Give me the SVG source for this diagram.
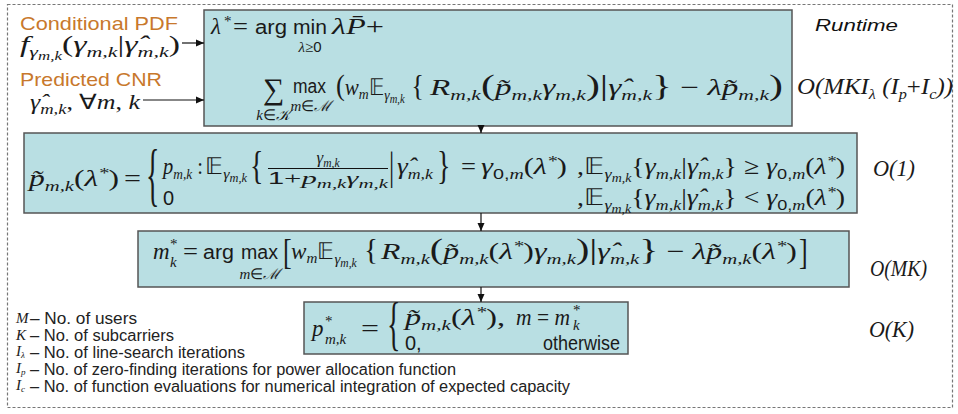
<svg xmlns="http://www.w3.org/2000/svg" width="958" height="414" viewBox="0 0 958 414">
<style>
.frame{fill:none;stroke:#777;stroke-width:1.2;stroke-dasharray:3 2}
.box{fill:#b9dfe3;stroke:#555;stroke-width:1.5}
.mi{font-family:"Liberation Serif",serif;font-style:italic;font-size:23px;fill:#1a1a1a}
.up{font-style:normal}
.sf{font-family:"Liberation Sans",sans-serif;font-style:normal;font-size:20px}
.sb{font-size:15px}
.ss{font-size:11.5px}
.big{font-size:29px}
.lbl{font-family:"Liberation Sans",sans-serif;font-size:19px;fill:#c8782c}
.leg{font-family:"Liberation Sans",sans-serif;font-size:16px;fill:#222}
.sym{font-family:"Liberation Serif",serif;font-style:italic;font-size:15px;fill:#1a1a1a}
.cx{font-family:"Liberation Serif",serif;font-style:italic;font-size:23px;fill:#1a1a1a}
.rt{font-family:"Liberation Sans",sans-serif;font-style:italic;font-size:17px;fill:#111}
.bar{stroke:#111;stroke-width:1}
.conn line{stroke:#111;stroke-width:1.2;marker-end:url(#ah)}
</style>
<defs>
<marker id="ah" viewBox="0 0 8 8" refX="8" refY="4" markerWidth="8" markerHeight="8" markerUnits="userSpaceOnUse" orient="auto"><path d="M0,0.5 L8,4 L0,7.5 z" fill="#111"/></marker>
</defs>
<rect x="0" y="0" width="958" height="414" fill="#fff"/>
<rect class="frame" x="7.5" y="4.5" width="945" height="403"/>

<g id="inputs">
<text class="lbl" x="20" y="30" textLength="158" lengthAdjust="spacingAndGlyphs">Conditional PDF</text>
<text class="mi" x="20" y="52" textLength="160" lengthAdjust="spacingAndGlyphs">f<tspan class="sb" dy="5">γ<tspan class="ss" dy="3">m,k</tspan></tspan><tspan class="up" dy="-8">(</tspan>γ<tspan class="sb" dy="5">m,k</tspan><tspan class="up" dy="-5">|</tspan>γ&#x302;<tspan class="sb" dy="5">m,k</tspan><tspan class="up" dy="-5">)</tspan></text>
<text class="lbl" x="20" y="86" textLength="142" lengthAdjust="spacingAndGlyphs">Predicted CNR</text>
<text class="mi" x="30" y="109" textLength="110" lengthAdjust="spacingAndGlyphs" style="font-size:21px">γ&#x302;<tspan class="sb" dy="5">m,k</tspan><tspan class="up" dy="-5">, ∀</tspan>m<tspan class="up">, </tspan>k</text>
</g>

<g id="n1">
<rect class="box" x="204" y="10" width="588" height="116"/>
<text class="mi" x="211" y="34">λ</text>
<text class="mi sb up" x="224" y="26">*</text>
<text class="mi up" x="233" y="34" textLength="15" lengthAdjust="spacingAndGlyphs">=</text>
<text class="mi sf" x="255" y="34" textLength="32" lengthAdjust="spacingAndGlyphs">arg</text>
<text class="mi sf" x="293" y="34" textLength="34" lengthAdjust="spacingAndGlyphs">min</text>
<text class="mi sb" x="310" y="52" text-anchor="middle">λ<tspan class="up">≥</tspan><tspan class="sf sb">0</tspan></text>
<text class="mi" x="332" y="34" textLength="52" lengthAdjust="spacingAndGlyphs">λP&#x304;<tspan class="up">+</tspan></text>
<text class="mi up" x="263" y="99" style="font-size:30px">∑</text>
<text class="mi sb" x="273" y="120" text-anchor="middle">k<tspan class="up">∈</tspan>𝒦</text>
<text class="mi sf" x="293" y="93" textLength="33" lengthAdjust="spacingAndGlyphs">max</text>
<text class="mi sb" x="311" y="111" text-anchor="middle">m<tspan class="up">∈</tspan>ℳ</text>
<text class="mi" x="336" y="95" textLength="88" lengthAdjust="spacingAndGlyphs"><tspan class="up big">(</tspan>w<tspan class="sb" dy="4">m</tspan><tspan class="up" dy="-4">𝔼</tspan><tspan class="sb" dy="5">γ<tspan class="ss" dy="3">m,k</tspan></tspan><tspan class="up big" dy="-8"> {</tspan></text>
<text class="mi" x="430" y="95" textLength="353" lengthAdjust="spacingAndGlyphs">R<tspan class="sb" dy="5">m,k</tspan><tspan class="up big" dy="-5">(</tspan>p&#x303;<tspan class="sb" dy="5">m,k</tspan><tspan dy="-5">γ</tspan><tspan class="sb" dy="5">m,k</tspan><tspan class="up big" dy="-5">)</tspan><tspan class="up big">|</tspan>γ&#x302;<tspan class="sb" dy="5">m,k</tspan><tspan class="up big" dy="-5">}</tspan><tspan class="up"> − </tspan>λp&#x303;<tspan class="sb" dy="5">m,k</tspan><tspan class="up big" dy="-5">)</tspan></text>
</g>

<g id="n2">
<rect class="box" x="24" y="133" width="833" height="80"/>
<text class="mi" x="29" y="186" textLength="90" lengthAdjust="spacingAndGlyphs">p&#x303;<tspan class="sb" dy="5">m,k</tspan><tspan class="up" dy="-5">(</tspan>λ<tspan class="sb" dy="-8">*</tspan><tspan class="up" dy="8">)</tspan></text>
<text class="mi up" x="124" y="186" textLength="17" lengthAdjust="spacingAndGlyphs">=</text>
<text class="mi up" transform="translate(146,198) scale(1,2.5)" style="font-size:28px">{</text>
<text class="mi" x="163" y="174" textLength="40" lengthAdjust="spacingAndGlyphs">p<tspan class="sb" dy="5">m,k</tspan><tspan class="up" dy="-5"> :</tspan></text>
<text class="mi" x="205" y="174" textLength="42" lengthAdjust="spacingAndGlyphs"><tspan class="up">𝔼</tspan><tspan class="sb" dy="5">γ<tspan class="ss" dy="3">m,k</tspan></tspan></text>
<text class="mi up" transform="translate(250,179) scale(1,1.4)" style="font-size:28px">{</text>
<text class="mi" x="328" y="163" text-anchor="middle" style="font-size:17px">γ<tspan class="ss" dy="4">m,k</tspan></text>
<line class="bar" x1="268" y1="168.5" x2="388" y2="168.5"/>
<text class="mi" x="268" y="184" textLength="120" lengthAdjust="spacingAndGlyphs" style="font-size:17px"><tspan class="sf" style="font-size:16px">1</tspan><tspan class="up">+</tspan>p<tspan class="ss" dy="4">m,k</tspan><tspan dy="-4">γ</tspan><tspan class="ss" dy="4">m,k</tspan></text>
<text class="mi up" transform="translate(389,179) scale(1,1.5)" style="font-size:26px">|</text>
<text class="mi" x="397" y="174" textLength="36" lengthAdjust="spacingAndGlyphs">γ&#x302;<tspan class="sb" dy="5">m,k</tspan></text>
<text class="mi up" transform="translate(437,179) scale(1,1.4)" style="font-size:28px">}</text>
<text class="mi up" x="461" y="174" textLength="15" lengthAdjust="spacingAndGlyphs">=</text>
<text class="mi" x="481" y="174" textLength="86" lengthAdjust="spacingAndGlyphs">γ<tspan class="sb sf" dy="5">0,</tspan><tspan class="sb">m</tspan><tspan class="up" dy="-5">(</tspan>λ<tspan class="sb" dy="-8">*</tspan><tspan class="up" dy="8">)</tspan></text>
<text class="mi" x="577" y="174" textLength="268" lengthAdjust="spacingAndGlyphs"><tspan class="up">,𝔼</tspan><tspan class="sb" dy="5">γ<tspan class="ss" dy="3">m,k</tspan></tspan><tspan class="up" dy="-8">{</tspan>γ<tspan class="sb" dy="5">m,k</tspan><tspan class="up" dy="-5">|</tspan>γ&#x302;<tspan class="sb" dy="5">m,k</tspan><tspan class="up" dy="-5">} ≥ </tspan>γ<tspan class="sb sf" dy="5">0,</tspan><tspan class="sb">m</tspan><tspan class="up" dy="-5">(</tspan>λ<tspan class="sb" dy="-8">*</tspan><tspan class="up" dy="8">)</tspan></text>
<text class="mi sf" x="163" y="205">0</text>
<text class="mi" x="577" y="205" textLength="268" lengthAdjust="spacingAndGlyphs"><tspan class="up">,𝔼</tspan><tspan class="sb" dy="5">γ<tspan class="ss" dy="3">m,k</tspan></tspan><tspan class="up" dy="-8">{</tspan>γ<tspan class="sb" dy="5">m,k</tspan><tspan class="up" dy="-5">|</tspan>γ&#x302;<tspan class="sb" dy="5">m,k</tspan><tspan class="up" dy="-5">} &lt; </tspan>γ<tspan class="sb sf" dy="5">0,</tspan><tspan class="sb">m</tspan><tspan class="up" dy="-5">(</tspan>λ<tspan class="sb" dy="-8">*</tspan><tspan class="up" dy="8">)</tspan></text>
</g>

<g id="n3">
<rect class="box" x="138" y="231" width="711" height="56"/>
<text class="mi" x="153" y="259">m</text>
<text class="mi sb up" x="170" y="249">*</text>
<text class="mi sb" x="170" y="267">k</text>
<text class="mi up" x="183" y="259" textLength="15" lengthAdjust="spacingAndGlyphs">=</text>
<text class="mi sf" x="203" y="259" textLength="31" lengthAdjust="spacingAndGlyphs">arg</text>
<text class="mi sf" x="241" y="259" textLength="37" lengthAdjust="spacingAndGlyphs">max</text>
<text class="mi sb" x="260" y="279" text-anchor="middle">m<tspan class="up">∈</tspan>ℳ</text>
<text class="mi up" transform="translate(283,264) scale(1,1.35)" style="font-size:26px">[</text>
<text class="mi" x="291" y="259" textLength="87" lengthAdjust="spacingAndGlyphs">w<tspan class="sb" dy="4">m</tspan><tspan class="up" dy="-4">𝔼</tspan><tspan class="sb" dy="5">γ<tspan class="ss" dy="3">m,k</tspan></tspan><tspan class="up big" dy="-8"> {</tspan></text>
<text class="mi" x="381" y="259" textLength="416" lengthAdjust="spacingAndGlyphs">R<tspan class="sb" dy="5">m,k</tspan><tspan class="up big" dy="-5">(</tspan>p&#x303;<tspan class="sb" dy="5">m,k</tspan><tspan class="up" dy="-5">(</tspan>λ<tspan class="sb" dy="-8">*</tspan><tspan class="up" dy="8">)</tspan>γ<tspan class="sb" dy="5">m,k</tspan><tspan class="up big" dy="-5">)</tspan><tspan class="up big">|</tspan>γ&#x302;<tspan class="sb" dy="5">m,k</tspan><tspan class="up big" dy="-5">}</tspan><tspan class="up"> − </tspan>λp&#x303;<tspan class="sb" dy="5">m,k</tspan><tspan class="up" dy="-5">(</tspan>λ<tspan class="sb" dy="-8">*</tspan><tspan class="up" dy="8">)</tspan></text>
<text class="mi up" transform="translate(799,264) scale(1,1.35)" style="font-size:26px">]</text>
</g>

<g id="n4">
<rect class="box" x="304" y="302" width="324" height="52"/>
<text class="mi" x="312" y="336">p</text>
<text class="mi sb up" x="325" y="326">*</text>
<text class="mi sb" x="325" y="344">m,k</text>
<text class="mi up" x="361" y="336" textLength="18" lengthAdjust="spacingAndGlyphs">=</text>
<text class="mi up" transform="translate(387,343) scale(1,2.1)" style="font-size:28px">{</text>
<text class="mi" x="405" y="325" textLength="100" lengthAdjust="spacingAndGlyphs">p&#x303;<tspan class="sb" dy="5">m,k</tspan><tspan class="up" dy="-5">(</tspan>λ<tspan class="sb" dy="-8">*</tspan><tspan class="up" dy="8">),</tspan></text>
<text class="mi" x="516" y="325" textLength="54" lengthAdjust="spacingAndGlyphs">m<tspan class="up"> = </tspan>m</text>
<text class="mi sb up" x="573" y="315">*</text>
<text class="mi sb" x="573" y="330">k</text>
<text class="mi sf" x="405" y="350">0,</text>
<text class="mi sf" x="543" y="350" textLength="77" lengthAdjust="spacingAndGlyphs">otherwise</text>
</g>

<g id="runtime">
<text class="rt" x="815" y="31" textLength="83" lengthAdjust="spacingAndGlyphs">Runtime</text>
<text class="cx" x="797" y="94" textLength="156" lengthAdjust="spacingAndGlyphs">O(MKI<tspan class="sb" dy="5">λ</tspan><tspan dy="-5"> (I</tspan><tspan class="sb" dy="5">p</tspan><tspan class="up" dy="-5">+</tspan>I<tspan class="sb" dy="5">c</tspan><tspan dy="-5">))</tspan></text>
<text class="cx" x="873" y="176" textLength="42" lengthAdjust="spacingAndGlyphs">O(1)</text>
<text class="cx" x="870" y="276" textLength="57" lengthAdjust="spacingAndGlyphs">O(MK)</text>
<text class="cx" x="869" y="337" textLength="45" lengthAdjust="spacingAndGlyphs">O(K)</text>
</g>

<g id="legend">
<text class="sym" x="16" y="323">M</text>
<text class="leg" x="30" y="324" textLength="107" lengthAdjust="spacingAndGlyphs">– No. of users</text>
<text class="sym" x="16" y="340">K</text>
<text class="leg" x="30" y="341" textLength="144" lengthAdjust="spacingAndGlyphs">– No. of subcarriers</text>
<text class="sym" x="16" y="356">I<tspan style="font-size:9px" dy="2">λ</tspan></text>
<text class="leg" x="30" y="358" textLength="215" lengthAdjust="spacingAndGlyphs">– No. of line-search iterations</text>
<text class="sym" x="16" y="373">I<tspan style="font-size:9px" dy="2">p</tspan></text>
<text class="leg" x="30" y="375" textLength="426" lengthAdjust="spacingAndGlyphs">– No. of zero-finding iterations for power allocation function</text>
<text class="sym" x="16" y="390">I<tspan style="font-size:9px" dy="2">c</tspan></text>
<text class="leg" x="30" y="392" textLength="540" lengthAdjust="spacingAndGlyphs">– No. of function evaluations for numerical integration of expected capacity</text>
</g>

<g id="connectors" class="conn">
<line x1="182" y1="43" x2="204" y2="43"/>
<line x1="143" y1="100" x2="204" y2="100"/>
<line x1="481" y1="126" x2="481" y2="133"/>
<line x1="481" y1="213" x2="481" y2="231"/>
<line x1="481" y1="287" x2="481" y2="302"/>
</g>
</svg>
